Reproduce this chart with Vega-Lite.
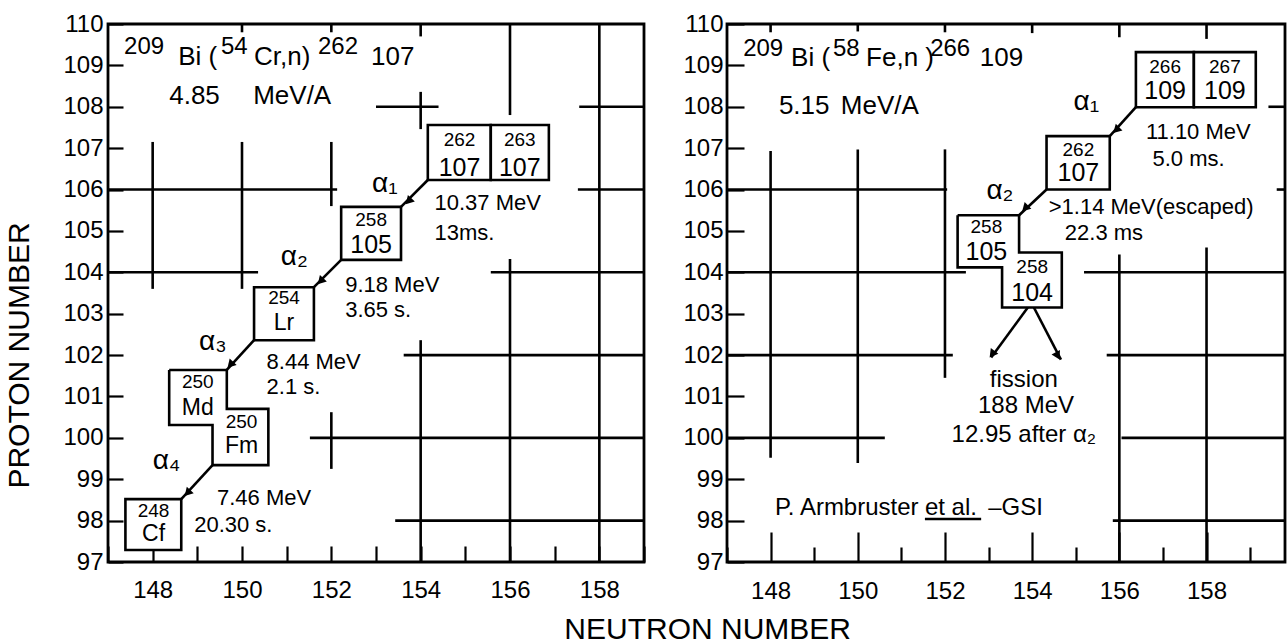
{
  "$schema": "https://vega.github.io/schema/vega-lite/v6.json",
  "background": "white",
  "padding": {"left": 3, "top": 10, "right": 0, "bottom": 0},
  "bounds": "flush",
  "spacing": 83,
  "config": {
    "font": "Liberation Sans",
    "view": {"stroke": "black", "strokeWidth": 2.8},
    "axis": {"grid": false, "domain": false, "labelFont": "Liberation Sans", "titleFont": "Liberation Sans", "labelColor": "black", "titleColor": "black", "tickColor": "black", "tickWidth": 2.2, "labelFlush": false, "labelOverlap": false, "labelBound": false}
  },
  "title": {"text": "NEUTRON NUMBER", "orient": "bottom", "anchor": "middle", "font": "Liberation Sans", "fontSize": 30, "fontWeight": "normal", "color": "black", "offset": -4, "dx": 62},
  "datasets": {
    "segL": [
      {"n": 148, "z": 107.15, "n2": 148, "z2": 103.6},
      {"n": 150, "z": 107.15, "n2": 150, "z2": 103.6},
      {"n": 152, "z": 107.15, "n2": 152, "z2": 105.6},
      {"n": 152, "z": 100.62, "n2": 152, "z2": 99.25},
      {"n": 154, "z": 108.36, "n2": 154, "z2": 107.46},
      {"n": 154, "z": 102.36, "n2": 154, "z2": 97},
      {"n": 156, "z": 110, "n2": 156, "z2": 107.8},
      {"n": 156, "z": 104.32, "n2": 156, "z2": 97},
      {"n": 158, "z": 110, "n2": 158, "z2": 97},
      {"n": 150, "z": 110, "n2": 150, "z2": 109.8},
      {"n": 152, "z": 110, "n2": 152, "z2": 109.8},
      {"n": 154, "z": 110, "n2": 154, "z2": 109.7},
      {"n": 153.0, "z": 108, "n2": 154.4, "z2": 108},
      {"n": 157.55, "z": 108, "n2": 159, "z2": 108},
      {"n": 147, "z": 106, "n2": 152.13, "z2": 106},
      {"n": 157.52, "z": 106, "n2": 159, "z2": 106},
      {"n": 147, "z": 104, "n2": 150.36, "z2": 104},
      {"n": 155.57, "z": 104, "n2": 159, "z2": 104},
      {"n": 153.62, "z": 102, "n2": 159, "z2": 102},
      {"n": 151.52, "z": 100, "n2": 159, "z2": 100},
      {"n": 153.43, "z": 98, "n2": 159, "z2": 98},
      {"n": 154.16, "z": 106.23, "n2": 153.56, "z2": 105.58},
      {"n": 152.22, "z": 104.30, "n2": 151.61, "z2": 103.64},
      {"n": 150.27, "z": 102.36, "n2": 149.66, "z2": 101.64},
      {"n": 149.34, "z": 99.34, "n2": 148.64, "z2": 98.52}
    ],
    "boxL": [
      {"n": 154.16, "z": 107.56, "n2": 155.57, "z2": 106.23},
      {"n": 155.57, "z": 107.56, "n2": 156.87, "z2": 106.23},
      {"n": 152.22, "z": 105.58, "n2": 153.56, "z2": 104.30},
      {"n": 150.27, "z": 103.64, "n2": 151.61, "z2": 102.36},
      {"n": 147.39, "z": 98.52, "n2": 148.64, "z2": 97.29}
    ],
    "polyL": [
      {"id": "MdFm", "ord": 0, "n": 148.37, "z": 101.64},
      {"id": "MdFm", "ord": 1, "n": 149.66, "z": 101.64},
      {"id": "MdFm", "ord": 2, "n": 149.66, "z": 100.70},
      {"id": "MdFm", "ord": 3, "n": 150.59, "z": 100.70},
      {"id": "MdFm", "ord": 4, "n": 150.59, "z": 99.34},
      {"id": "MdFm", "ord": 5, "n": 149.34, "z": 99.34},
      {"id": "MdFm", "ord": 6, "n": 149.34, "z": 100.31},
      {"id": "MdFm", "ord": 7, "n": 148.37, "z": 100.31},
      {"id": "MdFm", "ord": 8, "n": 148.37, "z": 101.64}
    ],
    "headL": [
      {"n": 153.75, "z": 105.74},
      {"n": 151.78, "z": 103.81},
      {"n": 149.76, "z": 101.79},
      {"n": 148.80, "z": 98.69}
    ],
    "textL": [
      {"role": "sup", "t": "209", "n": 147.36, "z": 109.27},
      {"role": "main", "t": "Bi (", "n": 148.57, "z": 109.01},
      {"role": "sup", "t": "54", "n": 149.53, "z": 109.27},
      {"role": "main", "t": "Cr,n)", "n": 150.27, "z": 109.01},
      {"role": "sup", "t": "262", "n": 151.70, "z": 109.27},
      {"role": "main", "t": "107", "n": 152.89, "z": 109.01},
      {"role": "big", "t": "4.85", "n": 148.37, "z": 108.07},
      {"role": "big", "t": "MeV/A", "n": 150.25, "z": 108.07},
      {"role": "note", "t": "10.37 MeV", "n": 154.31, "z": 105.50},
      {"role": "note", "t": "13ms.", "n": 154.31, "z": 104.78},
      {"role": "note", "t": "9.18 MeV", "n": 152.31, "z": 103.52},
      {"role": "note", "t": "3.65 s.", "n": 152.31, "z": 102.92},
      {"role": "note", "t": "8.44 MeV", "n": 150.55, "z": 101.66},
      {"role": "note", "t": "2.1 s.", "n": 150.55, "z": 101.06},
      {"role": "note", "t": "7.46 MeV", "n": 149.44, "z": 98.38},
      {"role": "note", "t": "20.30 s.", "n": 148.93, "z": 97.72},
      {"role": "alpha", "t": "α₁", "n": 152.91, "z": 105.94},
      {"role": "alpha", "t": "α₂", "n": 150.87, "z": 104.18},
      {"role": "alpha", "t": "α₃", "n": 149.04, "z": 102.12},
      {"role": "alpha", "t": "α₄", "n": 148.0, "z": 99.25},
      {"role": "mass", "t": "262", "n": 154.87, "z": 107.05},
      {"role": "charge", "t": "107", "n": 154.87, "z": 106.32},
      {"role": "mass", "t": "263", "n": 156.22, "z": 107.05},
      {"role": "charge", "t": "107", "n": 156.22, "z": 106.32},
      {"role": "mass", "t": "258", "n": 152.89, "z": 105.12},
      {"role": "charge", "t": "105", "n": 152.89, "z": 104.46},
      {"role": "mass", "t": "254", "n": 150.94, "z": 103.23},
      {"role": "elem", "t": "Lr", "n": 150.94, "z": 102.6},
      {"role": "mass", "t": "250", "n": 149.01, "z": 101.2},
      {"role": "elem", "t": "Md", "n": 149.01, "z": 100.55},
      {"role": "mass", "t": "250", "n": 149.99, "z": 100.23},
      {"role": "elem", "t": "Fm", "n": 149.99, "z": 99.64},
      {"role": "mass", "t": "248", "n": 148.02, "z": 98.08},
      {"role": "elem", "t": "Cf", "n": 148.02, "z": 97.5}
    ],
    "segR": [
      {"n": 148, "z": 106.93, "n2": 148, "z2": 99.52},
      {"n": 150, "z": 106.97, "n2": 150, "z2": 99.39},
      {"n": 152, "z": 106.97, "n2": 152, "z2": 101.45},
      {"n": 156, "z": 104.43, "n2": 156, "z2": 97},
      {"n": 158, "z": 104.6, "n2": 158, "z2": 97},
      {"n": 148, "z": 110, "n2": 148, "z2": 109.8},
      {"n": 150, "z": 110, "n2": 150, "z2": 109.82},
      {"n": 152, "z": 110, "n2": 152, "z2": 109.8},
      {"n": 154, "z": 110, "n2": 154, "z2": 109.78},
      {"n": 156, "z": 110, "n2": 156, "z2": 109.68},
      {"n": 158, "z": 110, "n2": 158, "z2": 109.64},
      {"n": 159.42, "z": 108, "n2": 159.8, "z2": 108},
      {"n": 147, "z": 106, "n2": 152.05, "z2": 106},
      {"n": 159.61, "z": 106, "n2": 159.8, "z2": 106},
      {"n": 147, "z": 104, "n2": 152.48, "z2": 104},
      {"n": 155.19, "z": 104, "n2": 159.8, "z2": 104},
      {"n": 147, "z": 102, "n2": 152.18, "z2": 102},
      {"n": 155.71, "z": 102, "n2": 159.8, "z2": 102},
      {"n": 147, "z": 100, "n2": 150.62, "z2": 100},
      {"n": 156.05, "z": 100, "n2": 159.8, "z2": 100},
      {"n": 155.85, "z": 98, "n2": 159.8, "z2": 98},
      {"n": 156.38, "z": 107.99, "n2": 155.78, "z2": 107.29},
      {"n": 154.33, "z": 106.0, "n2": 153.70, "z2": 105.38},
      {"n": 153.90, "z": 103.15, "n2": 153.06, "z2": 101.94},
      {"n": 154.04, "z": 103.15, "n2": 154.66, "z2": 101.89},
      {"n": 151.54, "z": 98.04, "n2": 152.83, "z2": 98.04}
    ],
    "boxR": [
      {"n": 156.38, "z": 109.32, "n2": 157.71, "z2": 107.99},
      {"n": 157.71, "z": 109.32, "n2": 159.13, "z2": 107.99},
      {"n": 154.33, "z": 107.29, "n2": 155.78, "z2": 106.0}
    ],
    "polyR": [
      {"id": "Db", "ord": 0, "n": 152.29, "z": 105.38},
      {"id": "Db", "ord": 1, "n": 153.70, "z": 105.38},
      {"id": "Db", "ord": 2, "n": 153.70, "z": 104.48},
      {"id": "Db", "ord": 3, "n": 154.68, "z": 104.48},
      {"id": "Db", "ord": 4, "n": 154.68, "z": 103.15},
      {"id": "Db", "ord": 5, "n": 153.31, "z": 103.15},
      {"id": "Db", "ord": 6, "n": 153.31, "z": 104.12},
      {"id": "Db", "ord": 7, "n": 152.29, "z": 104.12},
      {"id": "Db", "ord": 8, "n": 152.29, "z": 105.38}
    ],
    "headR": [
      {"kind": "alpha", "n": 155.95, "z": 107.46},
      {"kind": "alpha", "n": 153.86, "z": 105.57},
      {"kind": "fissionLeft", "n": 153.10, "z": 102.05},
      {"kind": "fissionRight", "n": 154.57, "z": 102.01}
    ],
    "textR": [
      {"role": "sup", "t": "209", "n": 147.37, "z": 109.22},
      {"role": "main", "t": "Bi (", "n": 148.47, "z": 108.98},
      {"role": "sup", "t": "58", "n": 149.43, "z": 109.22},
      {"role": "main", "t": "Fe,n )", "n": 150.19, "z": 108.98},
      {"role": "sup", "t": "266", "n": 151.66, "z": 109.22},
      {"role": "main", "t": "109", "n": 152.80, "z": 108.98},
      {"role": "big", "t": "5.15", "n": 148.19, "z": 107.82},
      {"role": "big", "t": "MeV/A", "n": 149.61, "z": 107.82},
      {"role": "mass", "t": "266", "n": 157.05, "z": 108.81},
      {"role": "charge", "t": "109", "n": 157.05, "z": 108.18},
      {"role": "mass", "t": "267", "n": 158.42, "z": 108.81},
      {"role": "charge", "t": "109", "n": 158.42, "z": 108.18},
      {"role": "alpha", "t": "α₁", "n": 154.95, "z": 107.92},
      {"role": "note", "t": "11.10 MeV", "n": 156.61, "z": 107.22},
      {"role": "note", "t": "5.0 ms.", "n": 156.76, "z": 106.56},
      {"role": "mass", "t": "262", "n": 155.06, "z": 106.82},
      {"role": "charge", "t": "107", "n": 155.06, "z": 106.2},
      {"role": "alpha", "t": "α₂", "n": 152.95, "z": 105.76},
      {"role": "note", "t": ">1.14 MeV(escaped)", "n": 154.38, "z": 105.4},
      {"role": "note", "t": "22.3 ms", "n": 154.75, "z": 104.77},
      {"role": "mass", "t": "258", "n": 152.95, "z": 104.95},
      {"role": "charge", "t": "105", "n": 152.95, "z": 104.29},
      {"role": "mass", "t": "258", "n": 154.0, "z": 103.98},
      {"role": "charge", "t": "104", "n": 154.0, "z": 103.31},
      {"role": "center", "t": "fission", "n": 153.81, "z": 101.23},
      {"role": "center", "t": "188 MeV", "n": 153.86, "z": 100.6},
      {"role": "center", "t": "12.95 after α₂", "n": 153.81, "z": 99.9},
      {"role": "credit", "t": "P. Armbruster", "n": 148.1, "z": 98.13},
      {"role": "credit", "t": "et al.", "n": 151.54, "z": 98.13},
      {"role": "credit", "t": "–GSI", "n": 152.99, "z": 98.13}
    ]
  },
  "hconcat": [
    {
      "width": 536,
      "height": 538,
      "encoding": {
        "x": {"field": "n", "type": "quantitative", "scale": {"domain": [147, 159], "nice": false, "zero": false},
          "axis": {"title": null, "values": [147,148,149,150,151,152,153,154,155,156,157,158,159], "labelExpr": "datum.value % 2 === 0 && datum.value > 147 && datum.value < 159 ? datum.label : ''", "tickSize": -16, "labelPadding": 32, "labelFontSize": 24}},
        "y": {"field": "z", "type": "quantitative", "scale": {"domain": [97, 110], "nice": false, "zero": false},
          "axis": {"title": "PROTON NUMBER", "values": [97,98,99,100,101,102,103,104,105,106,107,108,109,110], "format": "d", "tickSize": -15, "labelPadding": 20, "labelFontSize": 24, "titleFontSize": 30, "titleFontWeight": "normal", "titlePadding": 28, "titleY": 331}}
      },
      "layer": [
        {"data": {"name": "segL"}, "mark": {"type": "rule", "color": "black", "strokeWidth": 2.6}, "encoding": {"x2": {"field": "n2"}, "y2": {"field": "z2"}}},
        {"data": {"name": "boxL"}, "mark": {"type": "rect", "fill": "white", "stroke": "black", "strokeWidth": 2.6}, "encoding": {"x2": {"field": "n2"}, "y2": {"field": "z2"}}},
        {"data": {"name": "polyL"}, "mark": {"type": "line", "color": "black", "strokeWidth": 2.6, "strokeJoin": "miter"}, "encoding": {"detail": {"field": "id"}, "order": {"field": "ord", "type": "quantitative"}}},
        {"data": {"name": "headL"}, "mark": {"type": "point", "shape": "triangle", "filled": true, "color": "black", "opacity": 1, "size": 90, "angle": 223}},
        {"data": {"name": "textL"}, "transform": [{"filter": "datum.role === 'main'"}], "mark": {"type": "text", "fontSize": 26, "align": "left", "baseline": "alphabetic", "color": "black"}, "encoding": {"text": {"field": "t", "type": "nominal"}}},
        {"data": {"name": "textL"}, "transform": [{"filter": "datum.role === 'sup'"}], "mark": {"type": "text", "fontSize": 24, "align": "left", "baseline": "alphabetic", "color": "black"}, "encoding": {"text": {"field": "t", "type": "nominal"}}},
        {"data": {"name": "textL"}, "transform": [{"filter": "datum.role === 'big'"}], "mark": {"type": "text", "fontSize": 26, "align": "left", "baseline": "alphabetic", "color": "black"}, "encoding": {"text": {"field": "t", "type": "nominal"}}},
        {"data": {"name": "textL"}, "transform": [{"filter": "datum.role === 'note'"}], "mark": {"type": "text", "fontSize": 22, "align": "left", "baseline": "alphabetic", "color": "black"}, "encoding": {"text": {"field": "t", "type": "nominal"}}},
        {"data": {"name": "textL"}, "transform": [{"filter": "datum.role === 'alpha'"}], "mark": {"type": "text", "fontSize": 28, "align": "left", "baseline": "alphabetic", "color": "black"}, "encoding": {"text": {"field": "t", "type": "nominal"}}},
        {"data": {"name": "textL"}, "transform": [{"filter": "datum.role === 'mass'"}], "mark": {"type": "text", "fontSize": 19, "align": "center", "baseline": "alphabetic", "color": "black"}, "encoding": {"text": {"field": "t", "type": "nominal"}}},
        {"data": {"name": "textL"}, "transform": [{"filter": "datum.role === 'charge'"}], "mark": {"type": "text", "fontSize": 25, "align": "center", "baseline": "alphabetic", "color": "black"}, "encoding": {"text": {"field": "t", "type": "nominal"}}},
        {"data": {"name": "textL"}, "transform": [{"filter": "datum.role === 'elem'"}], "mark": {"type": "text", "fontSize": 23, "align": "center", "baseline": "alphabetic", "color": "black"}, "encoding": {"text": {"field": "t", "type": "nominal"}}}
      ]
    },
    {
      "width": 558,
      "height": 538,
      "encoding": {
        "x": {"field": "n", "type": "quantitative", "scale": {"domain": [147, 159.8], "nice": false, "zero": false},
          "axis": {"title": null, "values": [147,148,149,150,151,152,153,154,155,156,157,158,159], "labelExpr": "datum.value % 2 === 0 && datum.value > 147 && datum.value < 159 ? datum.label : ''", "tickSize": {"condition": {"test": "datum.value % 2 === 0", "value": -30}, "value": -15}, "labelPadding": 47, "labelFontSize": 24}},
        "y": {"field": "z", "type": "quantitative", "scale": {"domain": [97, 110], "nice": false, "zero": false},
          "axis": {"title": null, "values": [97,98,99,100,101,102,103,104,105,106,107,108,109,110], "format": "d", "tickSize": -17, "labelPadding": 21, "labelFontSize": 24}}
      },
      "layer": [
        {"data": {"name": "segR"}, "mark": {"type": "rule", "color": "black", "strokeWidth": 2.6}, "encoding": {"x2": {"field": "n2"}, "y2": {"field": "z2"}}},
        {"data": {"name": "boxR"}, "mark": {"type": "rect", "fill": "white", "stroke": "black", "strokeWidth": 2.6}, "encoding": {"x2": {"field": "n2"}, "y2": {"field": "z2"}}},
        {"data": {"name": "polyR"}, "mark": {"type": "line", "color": "black", "strokeWidth": 2.6, "strokeJoin": "miter"}, "encoding": {"detail": {"field": "id"}, "order": {"field": "ord", "type": "quantitative"}}},
        {"data": {"name": "headR"}, "transform": [{"filter": "datum.kind === 'alpha'"}], "mark": {"type": "point", "shape": "triangle", "filled": true, "color": "black", "opacity": 1, "size": 90, "angle": 225}},
        {"data": {"name": "headR"}, "transform": [{"filter": "datum.kind === 'fissionLeft'"}], "mark": {"type": "point", "shape": "triangle", "filled": true, "color": "black", "opacity": 1, "size": 90, "angle": 217}},
        {"data": {"name": "headR"}, "transform": [{"filter": "datum.kind === 'fissionRight'"}], "mark": {"type": "point", "shape": "triangle", "filled": true, "color": "black", "opacity": 1, "size": 90, "angle": 153}},
        {"data": {"name": "textR"}, "transform": [{"filter": "datum.role === 'main'"}], "mark": {"type": "text", "fontSize": 26, "align": "left", "baseline": "alphabetic", "color": "black"}, "encoding": {"text": {"field": "t", "type": "nominal"}}},
        {"data": {"name": "textR"}, "transform": [{"filter": "datum.role === 'sup'"}], "mark": {"type": "text", "fontSize": 24, "align": "left", "baseline": "alphabetic", "color": "black"}, "encoding": {"text": {"field": "t", "type": "nominal"}}},
        {"data": {"name": "textR"}, "transform": [{"filter": "datum.role === 'big'"}], "mark": {"type": "text", "fontSize": 26, "align": "left", "baseline": "alphabetic", "color": "black"}, "encoding": {"text": {"field": "t", "type": "nominal"}}},
        {"data": {"name": "textR"}, "transform": [{"filter": "datum.role === 'note'"}], "mark": {"type": "text", "fontSize": 22, "align": "left", "baseline": "alphabetic", "color": "black"}, "encoding": {"text": {"field": "t", "type": "nominal"}}},
        {"data": {"name": "textR"}, "transform": [{"filter": "datum.role === 'alpha'"}], "mark": {"type": "text", "fontSize": 28, "align": "left", "baseline": "alphabetic", "color": "black"}, "encoding": {"text": {"field": "t", "type": "nominal"}}},
        {"data": {"name": "textR"}, "transform": [{"filter": "datum.role === 'credit'"}], "mark": {"type": "text", "fontSize": 24, "align": "left", "baseline": "alphabetic", "color": "black"}, "encoding": {"text": {"field": "t", "type": "nominal"}}},
        {"data": {"name": "textR"}, "transform": [{"filter": "datum.role === 'mass'"}], "mark": {"type": "text", "fontSize": 19, "align": "center", "baseline": "alphabetic", "color": "black"}, "encoding": {"text": {"field": "t", "type": "nominal"}}},
        {"data": {"name": "textR"}, "transform": [{"filter": "datum.role === 'charge'"}], "mark": {"type": "text", "fontSize": 25, "align": "center", "baseline": "alphabetic", "color": "black"}, "encoding": {"text": {"field": "t", "type": "nominal"}}},
        {"data": {"name": "textR"}, "transform": [{"filter": "datum.role === 'center'"}], "mark": {"type": "text", "fontSize": 24, "align": "center", "baseline": "alphabetic", "color": "black"}, "encoding": {"text": {"field": "t", "type": "nominal"}}}
      ]
    }
  ]
}
